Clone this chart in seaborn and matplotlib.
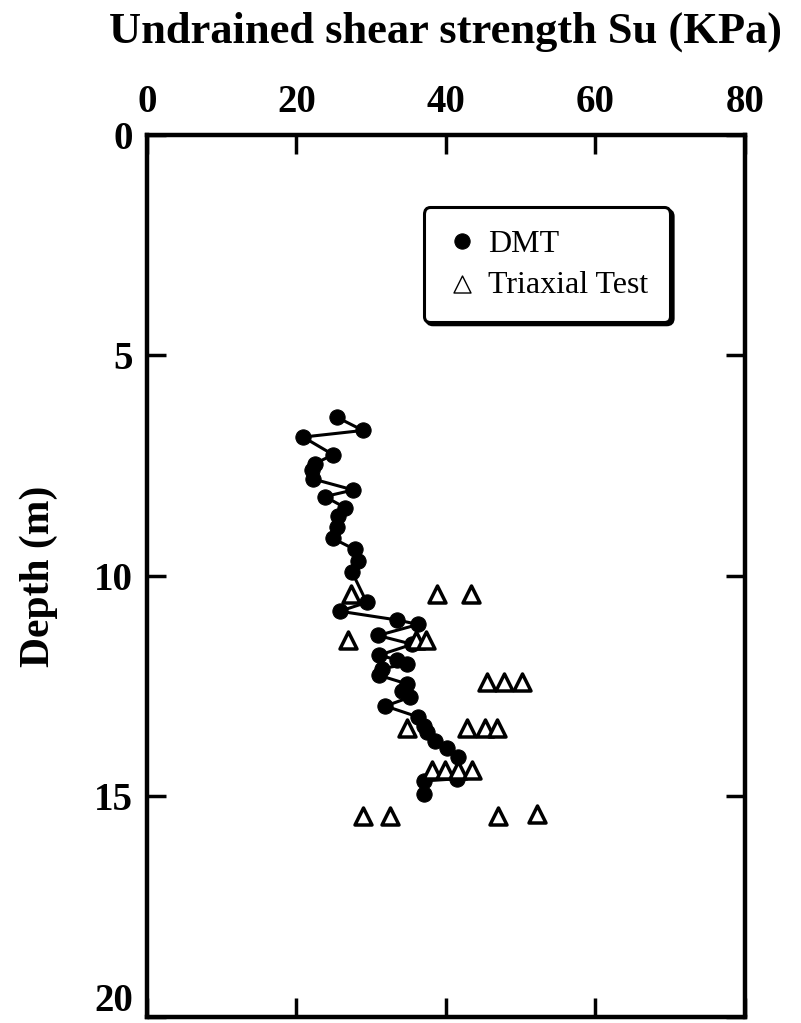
import pandas as pd
import matplotlib.pyplot as plt
import matplotlib.transforms as mtransforms
import seaborn as sns

# DMT profile
dmt_su = [25.4, 28.9, 20.9, 24.9, 22.5, 22.1, 22.2, 27.6, 23.8, 26.5, 25.6, 25.4,
          24.9, 27.8, 28.2, 27.4, 29.4, 25.8, 33.5, 36.3, 30.9, 35.5, 31.0, 33.5,
          34.8, 31.5, 31.0, 34.8, 34.1, 35.2, 31.9, 36.3, 37.0, 37.5, 38.6, 40.2,
          41.6, 41.5, 37.0, 37.0]
dmt_depth = [6.4, 6.7, 6.85, 7.25, 7.45, 7.6, 7.8, 8.05, 8.2, 8.45, 8.65, 8.9,
             9.15, 9.4, 9.65, 9.9, 10.6, 10.8, 11.0, 11.1, 11.35, 11.55, 11.8, 11.9,
             12.0, 12.1, 12.25, 12.45, 12.6, 12.75, 12.95, 13.2, 13.4, 13.55, 13.75, 13.9,
             14.1, 14.6, 14.65, 14.95]

# Triaxial test results
tx_su = [27.3, 38.8, 43.4,
         26.9, 36.0, 37.3,
         45.5, 47.7, 50.2,
         34.8, 42.8, 45.2, 46.8,
         38.1, 39.9, 41.6, 43.5,
         28.9, 32.5, 47.0, 52.2]
tx_depth = [10.4, 10.4, 10.4,
            11.45, 11.45, 11.45,
            12.4, 12.4, 12.4,
            13.45, 13.45, 13.45, 13.45,
            14.4, 14.4, 14.4, 14.4,
            15.45, 15.45, 15.45, 15.4]

dmt = pd.DataFrame({'su': dmt_su, 'depth': dmt_depth})
tx = pd.DataFrame({'su': tx_su, 'depth': tx_depth})

sns.set_style('ticks', {'axes.edgecolor': 'black', 'xtick.color': 'black',
                        'ytick.color': 'black', 'text.color': 'black',
                        'axes.labelcolor': 'black'})
plt.rcParams['font.family'] = ['Liberation Serif', 'DejaVu Serif']

fig = plt.figure(figsize=(8.01, 10.23), dpi=100)
ax = fig.add_axes([0.1835, 0.006, 0.7465, 0.862])

sns.lineplot(data=dmt, x='su', y='depth', sort=False, estimator=None, ax=ax,
             color='black', lw=2.2, marker='o', markersize=11,
             markeredgecolor='black', markerfacecolor='black', label='DMT')
sns.scatterplot(data=tx, x='su', y='depth', ax=ax, marker='^', s=150,
                facecolor='white', edgecolor='black', linewidth=2.5,
                label='Triaxial Test', zorder=3)

ax.set_xlim(0, 80)
ax.set_ylim(20, 0)
ax.set_xticks([0, 20, 40, 60, 80])
ax.set_yticks([0, 5, 10, 15, 20])
ax.xaxis.set_label_position('top')
ax.set_xlabel('Undrained shear strength Su (KPa)', fontsize=32, fontweight='bold', labelpad=30)
ax.set_ylabel('Depth (m)', fontsize=30, fontweight='bold', labelpad=26)
ax.tick_params(direction='in', top=True, bottom=True, left=True, right=True,
               labeltop=True, labelbottom=False, length=14, width=2.5,
               labelsize=28, pad=10)
for lab in ax.get_xticklabels() + ax.get_yticklabels():
    lab.set_fontweight('bold')
# the bottom "20" sits a little above the spine so it stays inside the figure
last = ax.get_yticklabels()[-1]
last.set_transform(last.get_transform() + mtransforms.ScaledTranslation(0, 0.2, fig.dpi_scale_trans))
for sp in ax.spines.values():
    sp.set_linewidth(3.2)
    sp.set_visible(True)

leg = ax.legend(loc='upper left', bbox_to_anchor=(0.463, 0.918), fontsize=23,
                frameon=True, fancybox=True, shadow={'color': 'black', 'alpha': 1},
                handletextpad=0.3, borderpad=0.7, handlelength=1.0, labelspacing=0.35,
                borderaxespad=0)
leg.get_frame().set_edgecolor('black')
leg.get_frame().set_linewidth(2.2)
leg.get_frame().set_alpha(1)
for h in leg.legend_handles:
    try:
        h.set_linestyle('None')
    except Exception:
        pass

fig.savefig('out.png', dpi=100)
